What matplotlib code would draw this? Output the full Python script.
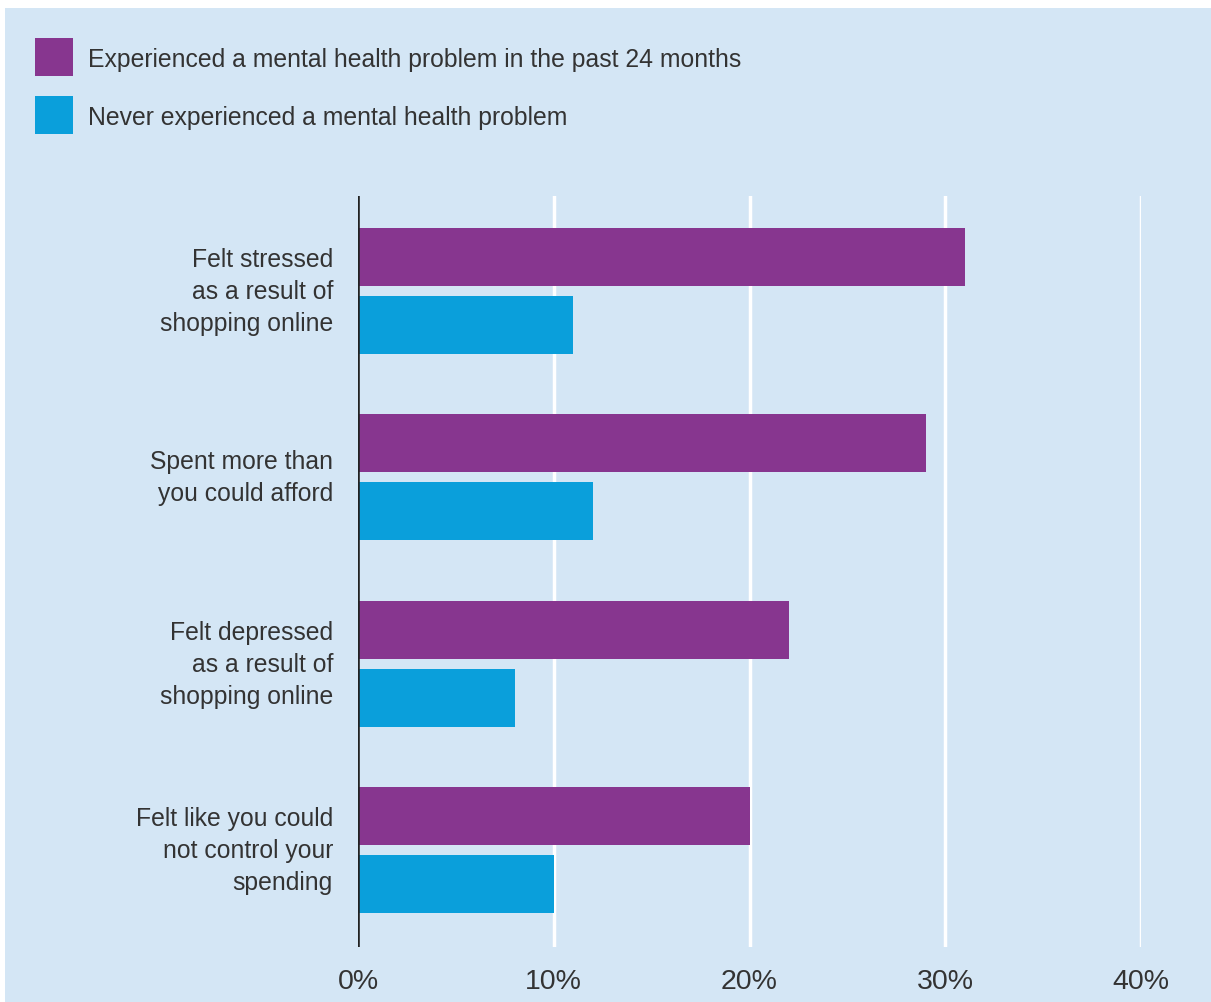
import matplotlib
matplotlib.use("Agg")
import matplotlib.pyplot as plt
from matplotlib.patches import Rectangle
import numpy as np

categories = ["Felt stressed\nas a result of\nshopping online",
              "Spent more than\nyou could afford",
              "Felt depressed\nas a result of\nshopping online",
              "Felt like you could\nnot control your\nspending"]
series_names = ["Experienced a mental health problem in the past 24 months",
                "Never experienced a mental health problem"]
experienced = [31, 29, 22, 20]
never = [11, 12, 8, 10]
xticks = [0, 10, 20, 30, 40]
xtick_labels = ["0%", "10%", "20%", "30%", "40%"]

PURPLE = "#87368f"
BLUE = "#0a9fdb"
BG = "#d4e6f5"
TEXT = "#333333"
FONT = "Liberation Sans"
FS = 17.8

W, H = 1211, 1003
fig = plt.figure(figsize=(W/100, H/100), dpi=100)
fig.patch.set_facecolor("white")
bgrect = Rectangle((5/W, 0), 1 - 5/W, 1 - 9/H, transform=fig.transFigure,
                   facecolor=BG, edgecolor="none", zorder=-10)
fig.patches.append(bgrect)

ax = fig.add_axes([358/W, 1 - 948/H, (1141-358)/W, (948-197)/H])
ax.set_facecolor("none")
ax.set_zorder(1)
y = np.arange(len(categories))
h = 0.311
off = 0.1825
ax.barh(y - off, experienced, height=h, color=PURPLE, zorder=3)
ax.barh(y + off, never, height=h, color=BLUE, zorder=3)
ax.set_xlim(0, 40)
ax.set_ylim(3.52, -0.51)
for x in xticks[1:]:
    ax.axvline(x, color="white", lw=2.5, zorder=1)
ax.axvline(0, color="#222222", lw=2.6, zorder=4)
for s in ax.spines.values():
    s.set_visible(False)
ax.set_xticks(xticks)
ax.set_xticklabels(xtick_labels, fontsize=20.5, color=TEXT, family=FONT)
ax.set_yticks(y)
ax.set_yticklabels(categories, fontsize=FS, color=TEXT, family=FONT,
                   linespacing=1.41, ha="right", va="center")
for lbl in ax.get_yticklabels():
    lbl.set_y(lbl.get_position()[1])
ax.tick_params(axis="both", length=0)
ax.tick_params(axis="x", pad=15)
ax.tick_params(axis="y", pad=18)

# legend
for i, (name, col) in enumerate(zip(series_names, [PURPLE, BLUE])):
    top = 39 + i * 58
    fig.patches.append(Rectangle((35/W, 1 - (top+38)/H), 38/W, 38/H,
                                 transform=fig.transFigure, facecolor=col,
                                 edgecolor="none", zorder=2))
    fig.text(88/W, 1 - (top+21)/H, name, fontsize=FS, color=TEXT, family=FONT,
             va="center", ha="left")

fig.savefig("out.png", dpi=100, facecolor=fig.get_facecolor())
